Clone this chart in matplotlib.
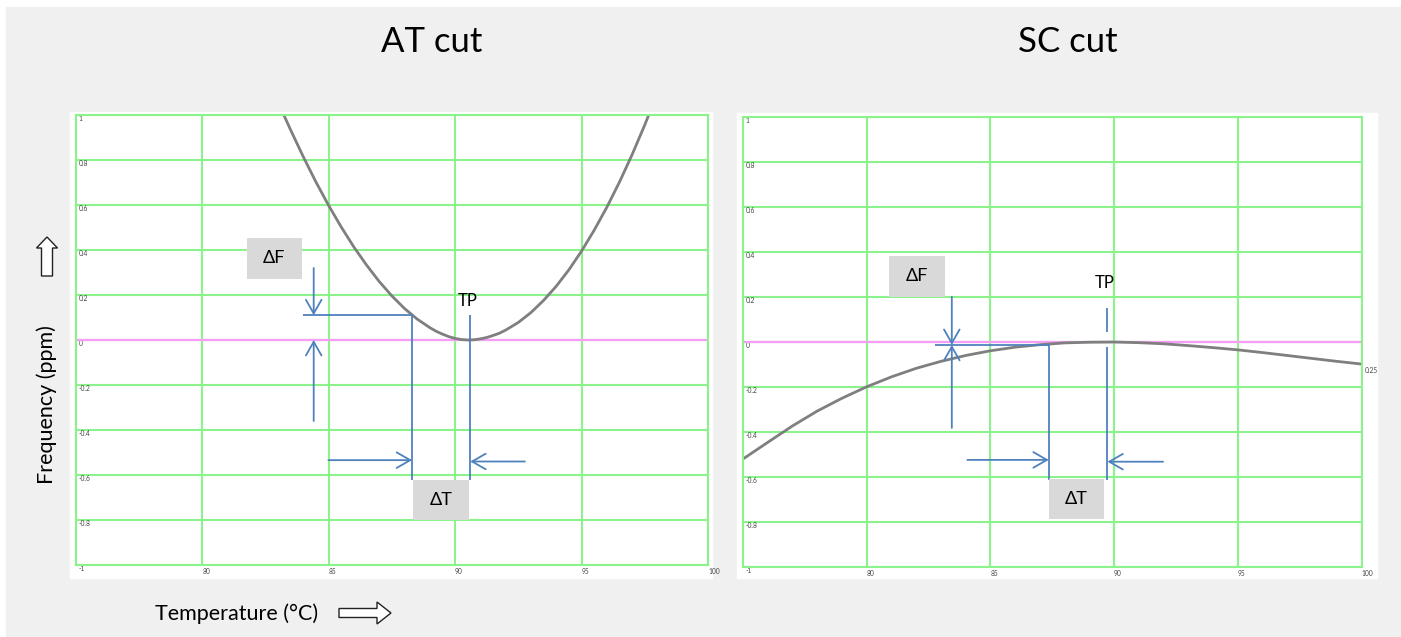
import matplotlib
matplotlib.use('Agg')
import matplotlib.pyplot as plt
from matplotlib.patches import Rectangle, Polygon

plt.rcParams['font.family'] = ['Lato', 'DejaVu Sans']

# AT cut: frequency deviation (ppm) against temperature (°C)
at_temp = [83.0, 83.5, 84.0, 84.5, 85.0, 85.5, 86.0, 86.5, 87.0, 87.5, 88.0,
           88.5, 89.0, 89.25, 89.5, 89.75, 90.0, 90.25, 90.5, 90.75, 91.0,
           91.25, 91.5, 91.75, 92.0, 92.5, 93.0, 93.5, 94.0, 94.5, 95.0, 95.5,
           96.0, 96.5, 97.0, 97.5, 98.0]
at_freq = [1.057, 0.933, 0.814, 0.702, 0.598, 0.502, 0.413, 0.333, 0.260,
           0.196, 0.140, 0.093, 0.055, 0.039, 0.026, 0.015, 0.007, 0.002, 0.0,
           0.001, 0.005, 0.011, 0.020, 0.030, 0.044, 0.078, 0.122, 0.176,
           0.239, 0.312, 0.395, 0.488, 0.590, 0.702, 0.824, 0.956, 1.097]
at_tp = 90.6          # turning point
at_dt_edge = 88.3     # lower edge of the temperature window
at_df_level = 0.11    # frequency deviation at that edge

# SC cut
sc_temp = [75, 76, 77, 78, 79, 80, 81, 82, 83, 84, 85, 86, 87, 88, 89, 90,
           91, 92, 93, 94, 95, 96, 97, 98, 99, 100]
sc_freq = [-0.52, -0.446, -0.373, -0.307, -0.250, -0.199, -0.155, -0.117,
           -0.086, -0.060, -0.039, -0.023, -0.012, -0.004, -0.001, 0.0,
           -0.003, -0.008, -0.016, -0.025, -0.035, -0.047, -0.060, -0.073,
           -0.086, -0.098]
sc_tp = 89.73
sc_dt_edge = 87.36
sc_df_level = -0.013

x_ticks = [75, 80, 85, 90, 95, 100]
x_tick_labels = ['', '80', '85', '90', '95', '100']
y_ticks = [-1, -0.8, -0.6, -0.4, -0.2, 0, 0.2, 0.4, 0.6, 0.8, 1]
y_tick_labels = ['-1', '-0.8', '-0.6', '-0.4', '-0.2', '0', '0.2', '0.4',
                 '0.6', '0.8', '1']

W, H = 1401, 637
GREEN = '#8cf28c'
PINK = '#f79cf7'
BLUE = '#4f81bd'
BOX = '#d9d9d9'
CURVE = '#7f7f7f'

fig = plt.figure(figsize=(W / 100, H / 100), dpi=100, facecolor='white')


def px_rect(x0, y0, x1, y1, **kw):
    # rectangle given in pixel coordinates measured from the top-left corner
    r = Rectangle((x0 / W, 1 - y1 / H), (x1 - x0) / W, (y1 - y0) / H,
                  transform=fig.transFigure, **kw)
    fig.patches.append(r)


def px_poly(points, **kw):
    pts = [(x / W, 1 - y / H) for x, y in points]
    fig.patches.append(Polygon(pts, closed=True, transform=fig.transFigure, **kw))


def px_axes(x0, y0, x1, y1):
    return fig.add_axes([x0 / W, 1 - y1 / H, (x1 - x0) / W, (y1 - y0) / H])


# grey page with white plot cards (kept behind the axes)
px_rect(6, 7, W, H, color='#f0f0f0', zorder=-3)
px_rect(70, 112, 712, 578, color='white', zorder=-2)
px_rect(737, 113, 1377, 578, color='white', zorder=-2)


def setup_panel(ax):
    ax.set_facecolor('white')
    ax.set_xlim(75, 100)
    ax.set_ylim(-1, 1)
    ax.set_xticks(x_ticks, x_tick_labels)
    ax.set_yticks(y_ticks, y_tick_labels)
    ax.grid(True, color=GREEN, lw=1.5, zorder=0)
    ax.set_axisbelow(True)
    for s in ax.spines.values():
        s.set_color(GREEN)
        s.set_linewidth(1.5)
    ax.tick_params(length=0, labelsize=4.8, labelcolor='#444444')
    ax.tick_params(axis='y', pad=-2)
    ax.tick_params(axis='x', pad=2)
    for lbl in ax.get_yticklabels():
        lbl.set_horizontalalignment('left')
        lbl.set_verticalalignment('top')
    for lbl in ax.get_xticklabels():
        lbl.set_horizontalalignment('left')
    ax.axhline(0, color=PINK, lw=1.6, zorder=1)


def arrow(ax, tail, tip):
    ax.annotate('', xy=tip, xytext=tail,
                arrowprops=dict(arrowstyle='->,head_length=0.7,head_width=0.4',
                                color=BLUE, lw=1.3, shrinkA=0, shrinkB=0,
                                mutation_scale=14))


def line(ax, xs, ys):
    ax.plot(xs, ys, color=BLUE, lw=1.3, zorder=3, solid_capstyle='butt')


def label_box(ax, x0, x1, y0, y1, text):
    ax.add_patch(Rectangle((x0, y0), x1 - x0, y1 - y0, fc=BOX, ec='none', zorder=4))
    ax.text((x0 + x1) / 2, (y0 + y1) / 2, text, ha='center', va='center',
            fontsize=13, zorder=5)


# ---- AT cut ----
ax1 = px_axes(75.7, 115, 708, 565)
setup_panel(ax1)
ax1.plot(at_temp, at_freq, color=CURVE, lw=2, zorder=2, solid_joinstyle='round')

label_box(ax1, 81.77, 83.94, 0.273, 0.455, 'ΔF')
arrow(ax1, (84.41, 0.32), (84.41, at_df_level))
arrow(ax1, (84.41, -0.36), (84.41, 0))
line(ax1, [83.99, at_dt_edge], [at_df_level, at_df_level])
line(ax1, [at_dt_edge, at_dt_edge], [at_df_level, -0.623])
line(ax1, [at_tp, at_tp], [0.113, -0.623])
ax1.text(at_tp - 0.1, 0.175, 'TP', ha='center', va='center', fontsize=12, zorder=5)
arrow(ax1, (84.99, -0.534), (at_dt_edge, -0.534))
arrow(ax1, (92.76, -0.54), (at_tp, -0.54))
label_box(ax1, at_dt_edge + 0.05, at_tp - 0.05, -0.801, -0.623, 'ΔT')

# ---- SC cut ----
ax2 = px_axes(743, 117, 1361.5, 567)
setup_panel(ax2)
ax2.plot(sc_temp, sc_freq, color=CURVE, lw=2, zorder=2, solid_joinstyle='round')
ax2.text(100.15, sc_freq[-1] - 0.03, '0.25', fontsize=4.8, color='#444444',
         ha='left', va='center', clip_on=False)

label_box(ax2, 80.92, 83.17, 0.199, 0.384, 'ΔF')
arrow(ax2, (83.44, 0.201), (83.44, sc_df_level))
arrow(ax2, (83.44, -0.382), (83.44, sc_df_level))
line(ax2, [82.76, sc_dt_edge], [sc_df_level, sc_df_level])
line(ax2, [sc_dt_edge, sc_dt_edge], [sc_df_level, -0.613])
line(ax2, [sc_tp, sc_tp], [0.151, 0.044])
line(ax2, [sc_tp, sc_tp], [-0.021, -0.613])
ax2.text(sc_tp - 0.13, 0.262, 'TP', ha='center', va='center', fontsize=12, zorder=5)
arrow(ax2, (84.07, -0.524), (sc_dt_edge, -0.524))
arrow(ax2, (91.98, -0.532), (sc_tp, -0.532))
label_box(ax2, sc_dt_edge, sc_tp - 0.13, -0.787, -0.61, 'ΔT')

# ---- titles and axis captions ----
fig.text(432 / W, 1 - 42 / H, 'AT cut', fontsize=25, ha='center', va='center')
fig.text(1068 / W, 1 - 42 / H, 'SC cut', fontsize=25, ha='center', va='center')
fig.text(47 / W, 1 - 405 / H, 'Frequency (ppm)', rotation=90, fontsize=15.5,
         ha='center', va='center')
fig.text(237 / W, 1 - 614 / H, 'Temperature (°C)', fontsize=15.5,
         ha='center', va='center')

# hollow block arrows next to the captions
px_poly([(41.5, 276), (52.5, 276), (52.5, 248), (57.5, 248), (47, 237),
         (36.5, 248), (41.5, 248)], fc='white', ec='#222222', lw=1, zorder=3)
px_poly([(339, 608.5), (377, 608.5), (377, 602), (391, 613), (377, 624),
         (377, 617.5), (339, 617.5)], fc='white', ec='#222222', lw=1, zorder=3)

fig.savefig('out.png', dpi=100, facecolor=fig.get_facecolor())
